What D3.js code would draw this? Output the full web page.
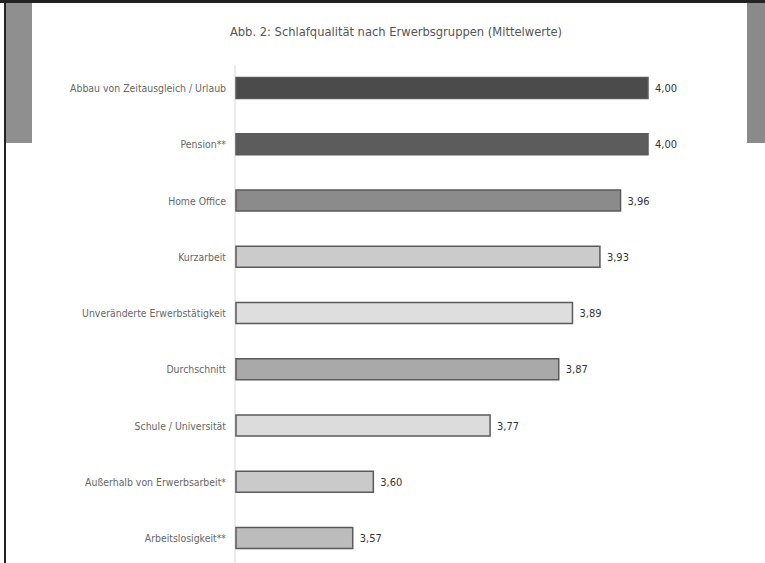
<!DOCTYPE html>
<html>
<head>
<meta charset="utf-8">
<script src="https://cdn.jsdelivr.net/npm/d3@7"></script>
<style>
  html, body { margin: 0; padding: 0; background: #fff; }
  svg { display: block; }
  text { font-family: 'DejaVu Sans Condensed', 'Liberation Sans Narrow', sans-serif; }
</style>
</head>
<body>
<div id="chart"></div>
<script>
var categories = [
  'Abbau von Zeitausgleich / Urlaub',
  'Pension**',
  'Home Office',
  'Kurzarbeit',
  'Unveränderte Erwerbstätigkeit',
  'Durchschnitt',
  'Schule / Universität',
  'Außerhalb von Erwerbsarbeit*',
  'Arbeitslosigkeit**'
]
var values = [4.00, 4.00, 3.96, 3.93, 3.89, 3.87, 3.77, 3.60, 3.57]
var title = 'Abb. 2: Schlafqualität nach Erwerbsgruppen (Mittelwerte)'

// grey shades of the printed bars, one per row
var FILLS = ['#4b4b4b', '#5c5c5c', '#8b8b8b', '#cbcbcb', '#dedede', '#a9a9a9', '#dcdcdc', '#cacaca', '#bcbcbc']

var WIDTH = 765
var HEIGHT = 563
var BAR_H = 21

var svg = d3.select('#chart').append('svg')
  .attr('width', WIDTH)
  .attr('height', HEIGHT)

// page frame from the scan
svg.append('rect').attr('x', 0).attr('y', 0).attr('width', WIDTH).attr('height', 3).attr('fill', '#222')
svg.append('rect').attr('x', 4).attr('y', 0).attr('width', 2).attr('height', HEIGHT).attr('fill', '#222')
svg.append('rect').attr('x', 6).attr('y', 3).attr('width', 26).attr('height', 140).attr('fill', '#8f8f8f')
svg.append('rect').attr('x', 747).attr('y', 3).attr('width', 18).attr('height', 140).attr('fill', '#8a8a8a')

var x = d3.scaleLinear().domain([3.4, 4.0]).range([236, 648])
var y = d3.scalePoint().domain(categories).range([88, 538])

var fmt = function (v) { return d3.format('.2f')(v).replace('.', ',') }

svg.append('text')
  .attr('x', 396)
  .attr('y', 36)
  .attr('text-anchor', 'middle')
  .attr('font-size', 12.8)
  .attr('fill', '#555')
  .text(title)

// category axis line
svg.append('line')
  .attr('x1', x(3.4) - 1).attr('x2', x(3.4) - 1)
  .attr('y1', 65).attr('y2', HEIGHT)
  .attr('stroke', '#d8d8d8')
  .attr('stroke-width', 1)

var rows = svg.selectAll('g.row')
  .data(categories)
  .enter().append('g')
  .attr('class', 'row')

rows.append('rect')
  .attr('x', x(3.4))
  .attr('y', function (d) { return y(d) - BAR_H / 2 })
  .attr('width', function (d, i) { return x(values[i]) - x(3.4) })
  .attr('height', BAR_H)
  .attr('fill', function (d, i) { return FILLS[i] })
  .attr('stroke', '#5a5a5a')
  .attr('stroke-width', 1.5)

rows.append('text')
  .attr('x', x(3.4) - 10)
  .attr('y', function (d) { return y(d) + 4 })
  .attr('text-anchor', 'end')
  .attr('font-size', 10.4)
  .attr('fill', '#666')
  .text(function (d) { return d })

rows.append('text')
  .attr('x', function (d, i) { return x(values[i]) + 7 })
  .attr('y', function (d) { return y(d) + 4 })
  .attr('font-size', 11)
  .attr('fill', '#333')
  .text(function (d, i) { return fmt(values[i]) })
</script>
</body>
</html>
